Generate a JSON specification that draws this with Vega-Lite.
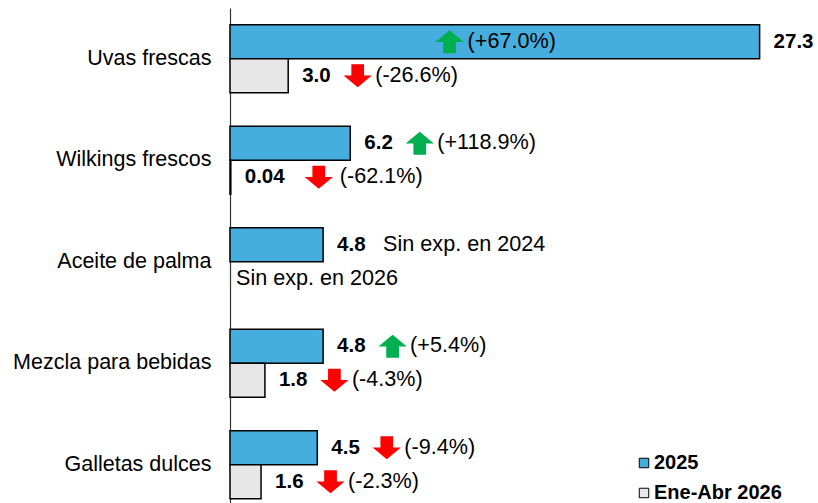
{
  "$schema": "https://vega.github.io/schema/vega-lite/v6.json",
  "width": 582,
  "height": 507.5,
  "padding": {"left": 12, "top": 8, "right": 0, "bottom": 0},
  "background": "white",
  "config": {"view": {"stroke": null}, "font": "Liberation Sans"},
  "data": {"values": [
    {"cat": "Uvas frescas", "series": "2025", "value": 27.3, "label": "27.3", "pct": "(+67.0%)", "dir": "up"},
    {"cat": "Uvas frescas", "series": "Ene-Abr 2026", "value": 3.0, "label": "3.0", "pct": "(-26.6%)", "dir": "down"},
    {"cat": "Wilkings frescos", "series": "2025", "value": 6.2, "label": "6.2", "pct": "(+118.9%)", "dir": "up"},
    {"cat": "Wilkings frescos", "series": "Ene-Abr 2026", "value": 0.04, "label": "0.04", "pct": "(-62.1%)", "dir": "down"},
    {"cat": "Aceite de palma", "series": "2025", "value": 4.8, "label": "4.8", "pct": null, "dir": null, "note": "Sin exp. en 2024"},
    {"cat": "Aceite de palma", "series": "Ene-Abr 2026", "value": null, "label": null, "pct": null, "dir": null, "note": "Sin exp. en 2026"},
    {"cat": "Mezcla para bebidas", "series": "2025", "value": 4.8, "label": "4.8", "pct": "(+5.4%)", "dir": "up"},
    {"cat": "Mezcla para bebidas", "series": "Ene-Abr 2026", "value": 1.8, "label": "1.8", "pct": "(-4.3%)", "dir": "down"},
    {"cat": "Galletas dulces", "series": "2025", "value": 4.5, "label": "4.5", "pct": "(-9.4%)", "dir": "down"},
    {"cat": "Galletas dulces", "series": "Ene-Abr 2026", "value": 1.6, "label": "1.6", "pct": "(-2.3%)", "dir": "down"}
  ]},
  "encoding": {
    "y": {"field": "cat", "type": "nominal", "sort": null,
      "scale": {"paddingInner": 0.33, "paddingOuter": 0.165},
      "axis": {"title": null, "ticks": false, "tickSize": 0, "labelPadding": 19, "labelFontSize": 21.5, "labelColor": "#000", "labelFont": "Liberation Sans", "domainColor": "#333", "domainWidth": 1.2, "labelLimit": 400}},
    "yOffset": {"field": "series", "type": "nominal", "sort": ["2025", "Ene-Abr 2026"], "scale": {"domain": ["2025", "Ene-Abr 2026"], "paddingInner": 0, "paddingOuter": 0}}
  },
  "layer": [
    {
      "mark": {"type": "bar", "stroke": "#000", "strokeWidth": 1.5},
      "transform": [{"filter": "datum.value != null"}],
      "encoding": {
        "x": {"field": "value", "type": "quantitative", "scale": {"domain": [0, 30], "nice": false}, "axis": null},
        "fill": {"field": "series", "type": "nominal",
          "scale": {"domain": ["2025", "Ene-Abr 2026"], "range": ["#46AEDE", "#E7E7E7"]},
          "legend": {"title": null, "orient": "none", "legendX": 404, "legendY": 445, "symbolType": "square", "symbolSize": 90, "symbolStrokeColor": "#000", "symbolStrokeWidth": 1, "labelFontSize": 20, "labelFontWeight": "bold", "labelFont": "Liberation Sans", "labelColor": "#000", "labelOffset": 0, "rowPadding": 10, "padding": 0}}
      }
    },
    {
      "mark": {"type": "text", "align": "left", "baseline": "middle", "dx": 14, "fontSize": 20.5, "fontWeight": "bold", "color": "#000"},
      "transform": [{"filter": "datum.label != null"}],
      "encoding": {"x": {"field": "value", "type": "quantitative"}, "text": {"field": "label"}}
    },
    {
      "mark": {"type": "point", "filled": true, "size": 800, "opacity": 1, "xOffset": 69.5},
      "transform": [{"filter": "datum.pct != null && datum.label != '0.04' && !(datum.cat == 'Uvas frescas' && datum.series == '2025')"}],
      "encoding": {
        "x": {"field": "value", "type": "quantitative"},
        "shape": {"condition": {"test": "datum.dir == 'up'", "value": "M0,-0.82L1,0.02L0.45,0.02L0.45,0.82L-0.45,0.82L-0.45,0.02L-1,0.02Z"}, "value": "M0,0.82L1,-0.02L0.45,-0.02L0.45,-0.82L-0.45,-0.82L-0.45,-0.02L-1,-0.02Z"},
        "fill": {"condition": {"test": "datum.dir == 'up'", "value": "#00B050"}, "value": "#FF0000"}
      }
    },
    {
      "mark": {"type": "point", "filled": true, "size": 800, "opacity": 1, "xOffset": 88},
      "transform": [{"filter": "datum.label == '0.04'"}],
      "encoding": {
        "x": {"field": "value", "type": "quantitative"},
        "shape": {"condition": {"test": "datum.dir == 'up'", "value": "M0,-0.82L1,0.02L0.45,0.02L0.45,0.82L-0.45,0.82L-0.45,0.02L-1,0.02Z"}, "value": "M0,0.82L1,-0.02L0.45,-0.02L0.45,-0.82L-0.45,-0.82L-0.45,-0.02L-1,-0.02Z"},
        "fill": {"condition": {"test": "datum.dir == 'up'", "value": "#00B050"}, "value": "#FF0000"}
      }
    },
    {
      "mark": {"type": "point", "filled": true, "size": 800, "opacity": 1, "xOffset": -310},
      "transform": [{"filter": "datum.cat == 'Uvas frescas' && datum.series == '2025'"}],
      "encoding": {
        "x": {"field": "value", "type": "quantitative"},
        "shape": {"condition": {"test": "datum.dir == 'up'", "value": "M0,-0.82L1,0.02L0.45,0.02L0.45,0.82L-0.45,0.82L-0.45,0.02L-1,0.02Z"}, "value": "M0,0.82L1,-0.02L0.45,-0.02L0.45,-0.82L-0.45,-0.82L-0.45,-0.02L-1,-0.02Z"},
        "fill": {"condition": {"test": "datum.dir == 'up'", "value": "#00B050"}, "value": "#FF0000"}
      }
    },
    {
      "mark": {"type": "text", "align": "left", "baseline": "middle", "dx": 87, "fontSize": 21.6, "color": "#000"},
      "transform": [{"filter": "datum.pct != null && datum.label != '0.04' && !(datum.cat == 'Uvas frescas' && datum.series == '2025')"}],
      "encoding": {"x": {"field": "value", "type": "quantitative"}, "text": {"field": "pct"}}
    },
    {
      "mark": {"type": "text", "align": "left", "baseline": "middle", "dx": 109, "fontSize": 21.6, "color": "#000"},
      "transform": [{"filter": "datum.label == '0.04'"}],
      "encoding": {"x": {"field": "value", "type": "quantitative"}, "text": {"field": "pct"}}
    },
    {
      "mark": {"type": "text", "align": "left", "baseline": "middle", "dx": -292, "fontSize": 21.6, "color": "#000"},
      "transform": [{"filter": "datum.cat == 'Uvas frescas' && datum.series == '2025'"}],
      "encoding": {"x": {"field": "value", "type": "quantitative"}, "text": {"field": "pct"}}
    },
    {
      "mark": {"type": "text", "align": "left", "baseline": "middle", "dx": 60, "fontSize": 21.6, "color": "#000"},
      "transform": [{"filter": "datum.note != null && datum.value != null"}],
      "encoding": {"x": {"field": "value", "type": "quantitative"}, "text": {"field": "note"}}
    },
    {
      "mark": {"type": "text", "align": "left", "baseline": "middle", "dx": 6, "fontSize": 21.6, "color": "#000"},
      "transform": [{"filter": "datum.note != null && datum.value == null"}],
      "encoding": {"x": {"datum": 0, "type": "quantitative"}, "text": {"field": "note"}}
    }
  ]
}
